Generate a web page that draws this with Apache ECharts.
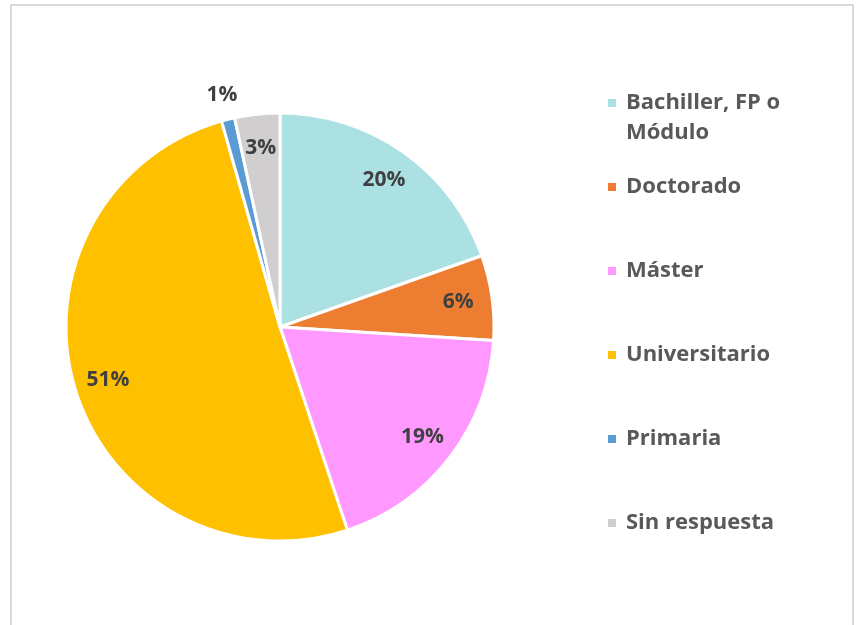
<!DOCTYPE html>
<html>
<head>
<meta charset="utf-8">
<script src="https://cdn.jsdelivr.net/npm/echarts@6/dist/echarts.min.js"></script>
<style>
  html, body { margin: 0; padding: 0; background: #fff; overflow: hidden; }
  #frame { position: absolute; left: 10px; top: 4px; width: 840px; height: 700px; border: 2px solid #d9d9d9; }
  #chart { position: absolute; left: 0; top: 0; width: 858px; height: 625px; }
</style>
</head>
<body>
<div id="frame"></div>
<div id="chart"></div>
<script>
const categories = ["Bachiller, FP o Módulo", "Doctorado", "Máster", "Universitario", "Primaria", "Sin respuesta"];
const shares = [19.6, 6.4, 18.9, 50.7, 1.0, 3.4];
const colors = ["#ABE1E3", "#ED7D31", "#FF99FF", "#FFC000", "#5B9BD5", "#D0CECE"];
const legendCenters = [101, 185, 269, 353, 437, 521];
// slices whose label sits outside the pie
const outsideLabels = ["Primaria"];

const FONT = "'Open Sans', Lato, sans-serif";
const pieCenter = [280, 327];
const pieRadius = 214;

const chart = echarts.init(document.getElementById("chart"));

const pieData = categories.map((name, i) => ({
  name,
  value: shares[i],
  itemStyle: { color: colors[i] }
}));

const labelStyle = {
  position: "inside",
  fontFamily: FONT,
  fontWeight: "bold",
  fontSize: 21,
  color: "#404040",
  formatter: (p) => Math.round(p.percent) + "%"
};

const innerLabels = categories.map((name, i) => ({
  name,
  value: shares[i],
  label: { show: outsideLabels.indexOf(name) < 0 }
}));

const outerLabels = categories.map((name, i) => ({
  name,
  value: shares[i],
  label: { show: outsideLabels.indexOf(name) >= 0 }
}));

const legends = categories.map((name, i) => {
  const twoLines = i === 0;
  return {
    orient: "vertical",
    left: 601,
    top: twoLines ? legendCenters[i] - 48 : legendCenters[i] - 18,
    data: [name],
    selectedMode: false,
    icon: "rect",
    itemWidth: 10,
    itemHeight: 10,
    formatter: (n) => (twoLines ? " \n" + n.replace("FP o ", "FP o\n") : n),
    textStyle: {
      fontFamily: FONT,
      fontWeight: "bold",
      fontSize: 22,
      lineHeight: 30,
      color: "#595959",
      padding: [0, 0, 0, 4]
    }
  };
});

chart.setOption({
  animation: false,
  legend: legends,
  series: [
    {
      type: "pie",
      center: pieCenter,
      radius: pieRadius,
      startAngle: 90,
      clockwise: true,
      silent: true,
      label: { show: false },
      labelLine: { show: false },
      itemStyle: { borderColor: "#fff", borderWidth: 3 },
      data: pieData
    },
    {
      type: "pie",
      center: pieCenter,
      radius: [140, pieRadius],
      startAngle: 90,
      clockwise: true,
      silent: true,
      itemStyle: { color: "rgba(0,0,0,0)" },
      label: labelStyle,
      labelLine: { show: false },
      data: innerLabels
    },
    {
      type: "pie",
      center: pieCenter,
      radius: [pieRadius, 258],
      startAngle: 90,
      clockwise: true,
      silent: true,
      itemStyle: { color: "rgba(0,0,0,0)" },
      label: labelStyle,
      labelLine: { show: false },
      data: outerLabels
    }
  ]
});
</script>
</body>
</html>
